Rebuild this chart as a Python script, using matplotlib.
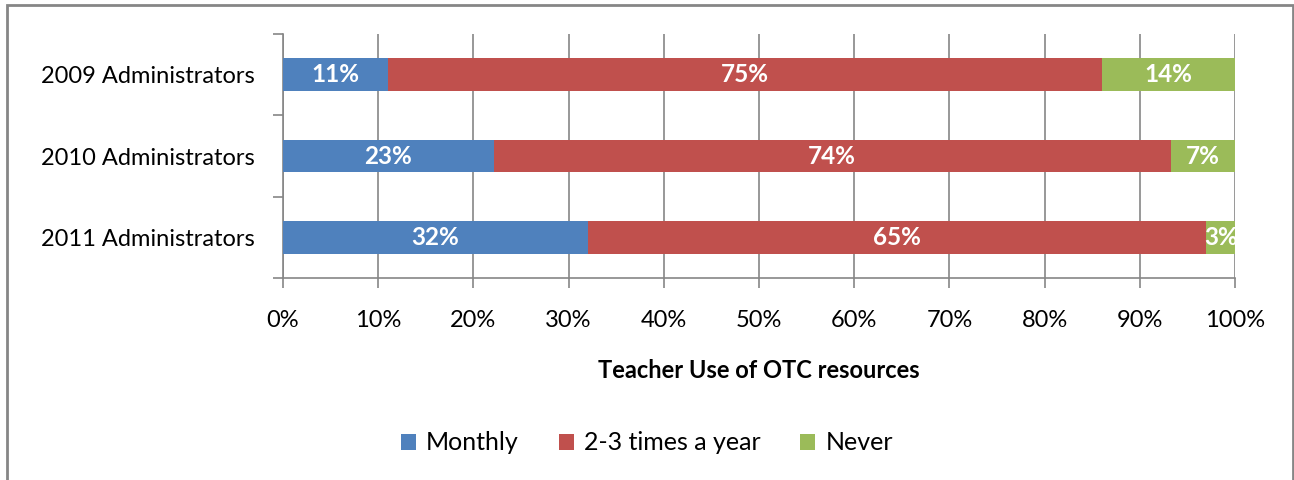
import numpy as np
import matplotlib.pyplot as plt
from matplotlib.patches import Rectangle

plt.rcParams['font.family'] = ['Lato', 'DejaVu Sans']

groups = ["2009 Administrators", "2010 Administrators", "2011 Administrators"]
series = ["Monthly", "2-3 times a year", "Never"]
monthly = [11, 23, 32]
few_times = [75, 74, 65]
never = [14, 7, 3]
colors = ["#4F81BD", "#C0504D", "#9BBB59"]

data = np.array([monthly, few_times, never], dtype=float)
shares = data / data.sum(axis=0) * 100

fig = plt.figure(figsize=(12.94, 4.8), dpi=100)
ax = fig.add_axes([283 / 1294, 1 - 278 / 480, 952 / 1294, 244 / 480])

ypos = np.arange(len(groups))[::-1]
left = np.zeros(len(groups))
for i, name in enumerate(series):
    ax.barh(ypos, shares[i], left=left, height=0.4, color=colors[i],
            label=name, zorder=3)
    for y, l, w, v in zip(ypos, left, shares[i], data[i]):
        ax.text(l + w / 2, y, f"{v:.0f}%", ha="center", va="center",
                color="white", fontsize=17.5, fontweight="bold", zorder=4)
    left += shares[i]

ax.set_xlim(0, 100)
ax.set_ylim(-0.5, 2.5)
ax.set_xticks(np.arange(0, 101, 10))
ax.set_xticklabels([f"{t}%" for t in range(0, 101, 10)], fontsize=17)
ax.set_yticks(ypos)
ax.set_yticklabels(groups, fontsize=17)
ax.set_yticks([-0.5, 0.5, 1.5, 2.5], minor=True)
ax.tick_params(axis="y", which="major", length=0, pad=20)
ax.tick_params(axis="y", which="minor", length=7, color="#868686", width=1.2)
ax.tick_params(axis="x", length=7, color="#868686", width=1.2, pad=16)
ax.grid(axis="x", color="#868686", linewidth=1.2, zorder=0)
for s in ["top", "right"]:
    ax.spines[s].set_visible(False)
for s in ["left", "bottom"]:
    ax.spines[s].set_color("#868686")
    ax.spines[s].set_linewidth(1.2)

ax.set_xlabel("Teacher Use of OTC resources", fontsize=17, fontweight="bold",
              labelpad=20)

ax.legend(loc="center", bbox_to_anchor=(0.5, 1 - 443 / 480),
          bbox_transform=fig.transFigure, ncol=3, frameon=False,
          fontsize=18, handlelength=0.6, handleheight=0.6,
          handletextpad=0.4, columnspacing=1.6)

fig.patches.append(Rectangle((7 / 1294, -0.01), 1286 / 1294, 1 - 5 / 480 + 0.01,
                             transform=fig.transFigure, fill=False,
                             edgecolor="#868686", linewidth=2))

fig.savefig("out.png", dpi=100)
